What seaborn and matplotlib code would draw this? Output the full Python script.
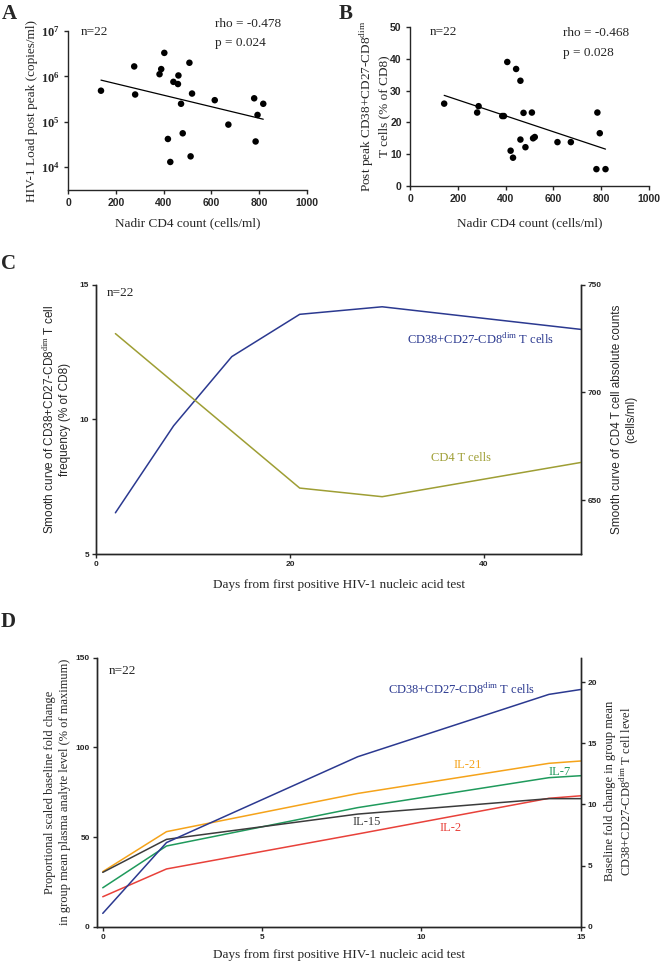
import numpy as np
import pandas as pd
import matplotlib
matplotlib.use("Agg")
import matplotlib.pyplot as plt
import seaborn as sns

# ---------------- data ----------------
# Panel A
a_nadir = [138, 277, 281, 383, 390, 403, 418, 428, 441, 460, 462, 473, 480, 508, 513, 519, 614, 671, 779, 785, 793, 817]
a_load = [4.85e5, 1.66e6, 4.0e5, 1.12e6, 1.45e6, 3.3e6, 4.2e4, 1.31e4, 7.6e5, 6.8e5, 1.05e6, 2.5e5,
          5.6e4, 2.0e6, 1.74e4, 4.2e5, 3.0e5, 8.7e4, 3.3e5, 3.7e4, 1.42e5, 2.5e5]
# Panel B
b_nadir = [143, 281, 287, 386, 393, 407, 421, 431, 444, 462, 462, 475, 483, 510, 515, 522, 617, 673, 784, 780, 794, 818]
b_freq = [25.9, 23.1, 25.1, 22.0, 22.0, 39.0, 11.1, 8.9, 36.8, 33.1, 14.6, 23.0, 12.2, 23.1, 15.0, 15.4,
          13.8, 13.8, 23.1, 5.3, 16.6, 5.3]
# Panel C
c_days_cd8 = [2, 8, 14, 21, 29.5, 50]
c_cd8 = [6.53, 9.76, 12.33, 13.9, 14.18, 13.34]
c_days_cd4 = [2, 21, 29.5, 50]
c_cd4 = [727.3, 655.6, 651.6, 667.5]
# Panel D
d_days = [0, 2, 8, 14, 15]
d_cd8 = [1.09, 6.88, 13.9, 19.0, 19.4]
d_il21 = [30.7, 53.0, 74.3, 91.1, 92.4]
d_il7 = [21.7, 45.0, 66.4, 83.1, 84.2]
d_il15 = [30.3, 48.7, 62.8, 71.4, 71.4]
d_il2 = [16.7, 32.2, 51.7, 71.6, 73.0]

a_ticks = [1e4, 1e5, 1e6, 1e7]
ab_xticks = [0, 200, 400, 600, 800, 1000]
b_yticks = [0, 10, 20, 30, 40, 50]
c_xticks = [0, 20, 40]
c_yticks = [5, 10, 15]
c_y2ticks = [650, 700, 750]
d_xticks = [0, 5, 10, 15]
d_yticks = [0, 50, 100, 150]
d_y2ticks = [0, 5, 10, 15, 20]

# ---------------- style ----------------
sns.set_theme(style="ticks")
plt.rcParams["font.family"] = ["Liberation Serif", "DejaVu Serif"]
plt.rcParams["mathtext.fontset"] = "custom"
plt.rcParams["mathtext.rm"] = "Liberation Serif"
plt.rcParams["mathtext.bf"] = "Liberation Serif:bold"
plt.rcParams["axes.linewidth"] = 1.0

SERIF = ["Liberation Serif", "DejaVu Serif"]
SANS = ["Liberation Sans", "DejaVu Sans"]
NAVY = "#2b3990"
OLIVE = "#9e9e34"
ORANGE = "#f5a31a"
GREEN = "#1f9a5c"
GRAY = "#3c3c3c"
RED = "#e8413a"

W, H = 660, 963
fig = plt.figure(figsize=(W / 100, H / 100), dpi=100)


def box(l, t, r, b):
    return [l / W, 1 - b / H, (r - l) / W, (b - t) / H]


def ftext(x, y, s, **kw):
    fig.text(x / W, 1 - y / H, s, **kw)


def style_ticks(ax, size, pad=3):
    ax.tick_params(axis="both", which="major", length=3, width=1.0, pad=pad, direction="out")
    ax.tick_params(axis="both", which="minor", length=0)
    for lab in ax.get_xticklabels() + ax.get_yticklabels():
        lab.set_fontfamily(SANS)
        lab.set_fontweight("bold")
        lab.set_fontsize(size)


# ---------------- Panel A ----------------
axA = fig.add_axes(box(68, 31, 307, 190))
dfA = pd.DataFrame({"nadir": a_nadir, "load": a_load})
sns.scatterplot(data=dfA, x="nadir", y="load", ax=axA, color="black", s=22, edgecolor="none", legend=False)
axA.set_yscale("log")
coefA = np.polyfit(dfA["nadir"], np.log10(dfA["load"]), 1)
fitx = np.array([dfA["nadir"].min(), dfA["nadir"].max()])
sns.lineplot(x=fitx, y=10 ** np.polyval(coefA, fitx), ax=axA, color="black", linewidth=0.9)
axA.set_xlim(0, 1000)
axA.set_ylim(10 ** 3.5, 1e7)
axA.set_xticks(ab_xticks)
axA.set_yticks(a_ticks)
axA.set_yticklabels([r"$\mathbf{10^{%d}}$" % int(np.log10(v)) for v in a_ticks])
axA.yaxis.set_minor_locator(matplotlib.ticker.NullLocator())
axA.set_xlabel("")
axA.set_ylabel("")
sns.despine(ax=axA)
style_ticks(axA, 7.5)
for lab in axA.get_yticklabels():
    lab.set_fontsize(9)
axA.text(0.055, 0.992, "n=22", transform=axA.transAxes, fontsize=9.5, va="center", ha="left", family=SERIF)
axA.text(0.615, 1.045, "rho = -0.478", transform=axA.transAxes, fontsize=9.5, va="center", ha="left", family=SERIF)
axA.text(0.615, 0.925, "p = 0.024", transform=axA.transAxes, fontsize=9.5, va="center", ha="left", family=SERIF)

# ---------------- Panel B ----------------
axB = fig.add_axes(box(410, 27, 649, 186))
dfB = pd.DataFrame({"nadir": b_nadir, "freq": b_freq})
sns.regplot(data=dfB, x="nadir", y="freq", ax=axB, ci=None, color="black",
            scatter_kws={"s": 22, "edgecolor": "none", "alpha": 1},
            line_kws={"linewidth": 0.9})
axB.set_xlim(0, 1000)
axB.set_ylim(0, 50)
axB.set_xticks(ab_xticks)
axB.set_yticks(b_yticks)
axB.set_xlabel("")
axB.set_ylabel("")
sns.despine(ax=axB)
style_ticks(axB, 7.5)
axB.text(0.081, 0.967, "n=22", transform=axB.transAxes, fontsize=9.5, va="center", ha="left", family=SERIF)
axB.text(0.642, 0.96, "rho = -0.468", transform=axB.transAxes, fontsize=9.5, va="center", ha="left", family=SERIF)
axB.text(0.642, 0.835, "p = 0.028", transform=axB.transAxes, fontsize=9.5, va="center", ha="left", family=SERIF)

# ---------------- Panel C ----------------
axC = fig.add_axes(box(96, 284.7, 581, 554))
axC2 = axC.twinx()
sns.lineplot(x=c_days_cd8, y=c_cd8, ax=axC, color=NAVY, linewidth=1.1)
sns.lineplot(x=c_days_cd4, y=c_cd4, ax=axC2, color=OLIVE, linewidth=1.1)
axC.set_xlim(0, 50)
axC.set_ylim(5, 15)
axC2.set_ylim(625, 750)
axC.set_xticks(c_xticks)
axC.set_yticks(c_yticks)
axC2.set_yticks(c_y2ticks)
for ax in (axC, axC2):
    ax.spines["top"].set_visible(False)
    ax.set_xlabel("")
    ax.set_ylabel("")
style_ticks(axC, 6, pad=2)
style_ticks(axC2, 6, pad=2)
axC.text(0.023, 0.968, "n=22", transform=axC.transAxes, fontsize=9.5, va="center", ha="left", family=SERIF)
axC.text(39.6, 12.98, r"CD38+CD27-CD8$^{\rm dim}$ T cells", color=NAVY, fontsize=9, ha="center", va="center", family=SERIF)
axC.text(37.6, 8.58, "CD4 T cells", color=OLIVE, fontsize=9, ha="center", va="center", family=SERIF)

# ---------------- Panel D ----------------
axD = fig.add_axes(box(96.8, 657.7, 580.8, 926.7))
axD2 = axD.twinx()
sns.lineplot(x=d_days, y=d_il2, ax=axD, color=RED, linewidth=1.1)
sns.lineplot(x=d_days, y=d_il7, ax=axD, color=GREEN, linewidth=1.1)
sns.lineplot(x=d_days, y=d_il21, ax=axD, color=ORANGE, linewidth=1.1)
sns.lineplot(x=d_days, y=d_il15, ax=axD, color=GRAY, linewidth=1.1)
sns.lineplot(x=d_days, y=d_cd8, ax=axD2, color=NAVY, linewidth=1.1)
axD.set_xlim(-0.187, 15)
axD.set_ylim(0, 150)
axD2.set_ylim(0, 22)
axD.set_xticks(d_xticks)
axD.set_yticks(d_yticks)
axD2.set_yticks(d_y2ticks)
for ax in (axD, axD2):
    ax.spines["top"].set_visible(False)
    ax.set_xlabel("")
    ax.set_ylabel("")
style_ticks(axD, 6, pad=2)
style_ticks(axD2, 6, pad=2)
axD.text(0.024, 0.95, "n=22", transform=axD.transAxes, fontsize=9.5, va="center", ha="left", family=SERIF)
axD.text(11.27, 132.4, r"CD38+CD27-CD8$^{\rm dim}$ T cells", color=NAVY, fontsize=9, ha="center", va="center", family=SERIF)
axD.text(11.44, 90.0, "IL-21", color=ORANGE, fontsize=9, ha="center", va="center", family=SERIF)
axD.text(14.33, 86.1, "IL-7", color=GREEN, fontsize=9, ha="center", va="center", family=SERIF)
axD.text(8.27, 58.2, "IL-15", color=GRAY, fontsize=9, ha="center", va="center", family=SERIF)
axD.text(10.93, 54.9, "IL-2", color=RED, fontsize=9, ha="center", va="center", family=SERIF)

# ---------------- axis titles ----------------
ftext(187.5, 223, "Nadir CD4 count (cells/ml)", fontsize=9.5, ha="center", va="center", family=SERIF)
ftext(529.5, 223, "Nadir CD4 count (cells/ml)", fontsize=9.5, ha="center", va="center", family=SERIF)
ftext(32, 110.5, "HIV-1 Load post peak (copies/ml)", fontsize=9.5, rotation=90, ha="center", va="center", family=SERIF)
ftext(374, 106, "Post peak CD38+CD27-CD8$^{\\rm dim}$\nT cells (% of CD8)", fontsize=9.5, rotation=90,
      ha="center", va="center", multialignment="center", family=SERIF, linespacing=1.2)
ftext(338.5, 585, "Days from first positive HIV-1 nucleic acid test", fontsize=9.5, ha="center", va="center", family=SERIF)
ftext(56.4, 419, "Smooth curve of CD38+CD27-CD8$^{\\rm dim}$ T cell\nfrequency (% of CD8)", fontsize=8.5, rotation=90,
      ha="center", va="center", multialignment="center", family=SANS, linespacing=1.25)
ftext(624, 419, "Smooth curve of CD4 T cell absolute counts\n(cells/ml)", fontsize=8.5, rotation=90,
      ha="center", va="center", multialignment="center", family=SANS, linespacing=1.25)
ftext(338.8, 955, "Days from first positive HIV-1 nucleic acid test", fontsize=9.5, ha="center", va="center", family=SERIF)
ftext(57.5, 792, "Proportional scaled baseline fold change\nin group mean plasma analyte level (% of maximum)",
      fontsize=9, rotation=90, ha="center", va="center", multialignment="center", family=SERIF, linespacing=1.25)
ftext(619, 791, "Baseline fold change in group mean\nCD38+CD27-CD8$^{\\rm dim}$ T cell level",
      fontsize=9, rotation=90, ha="center", va="center", multialignment="center", family=SERIF, linespacing=1.25)

# panel letters
for letter, (x, y) in {"A": (9.5, 14), "B": (345.5, 14), "C": (9, 264), "D": (8.5, 622)}.items():
    ftext(x, y, letter, fontsize=15, fontweight="bold", ha="center", va="center", family=SERIF)

fig.savefig("out.png", dpi=100)
